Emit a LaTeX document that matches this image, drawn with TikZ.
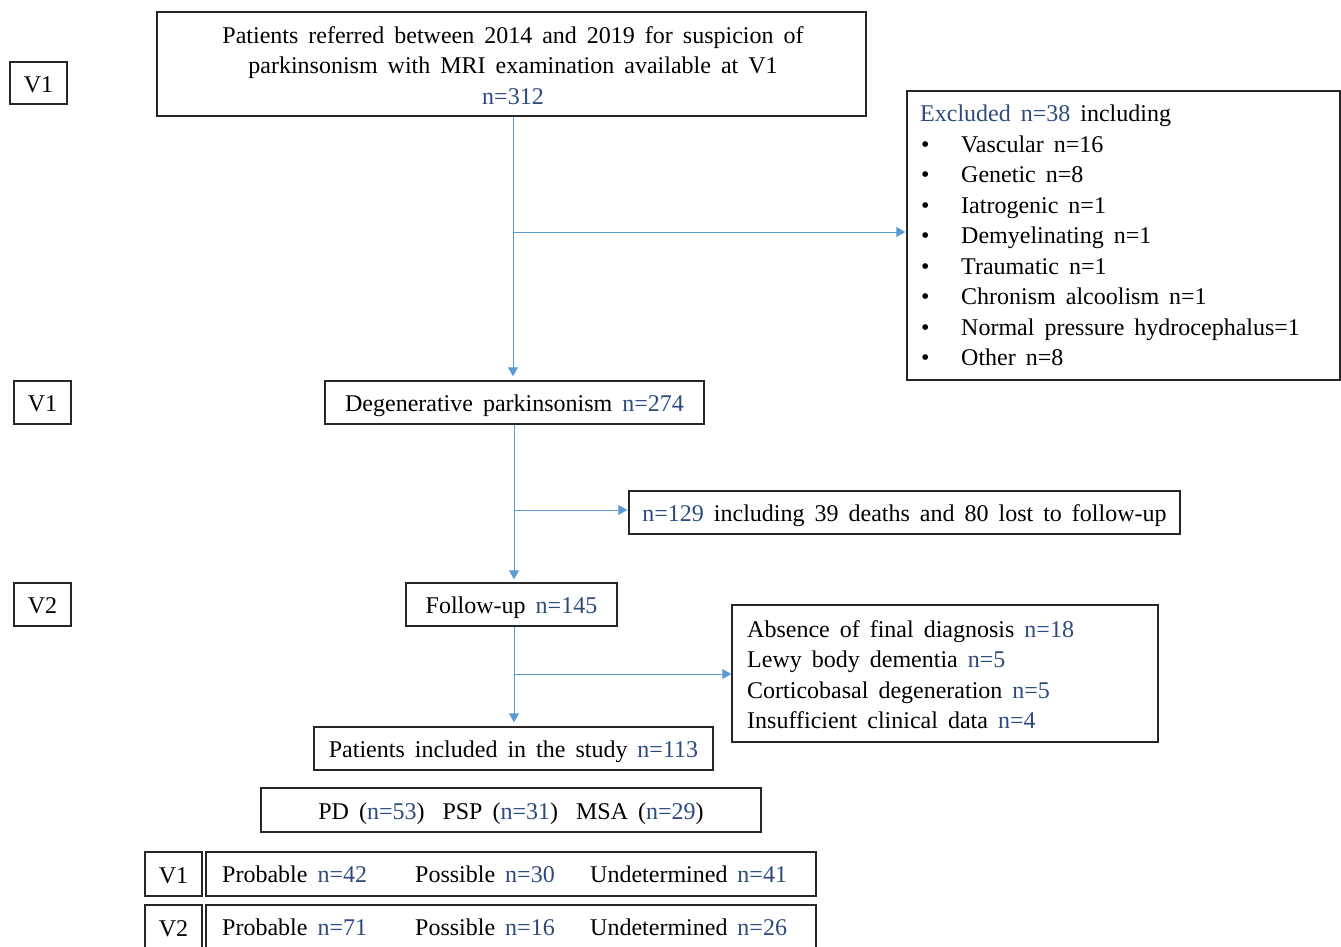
\documentclass[tikz,border=0pt]{standalone}
\usepackage{fontspec}
\setmainfont{Liberation Serif}
\usetikzlibrary{arrows.meta}
\definecolor{nblue}{HTML}{2E4A7D}
\definecolor{lblue}{HTML}{5B9BD5}
\definecolor{bord}{HTML}{262626}
\newcommand{\nb}[1]{\textcolor{nblue}{#1}}
\newcommand{\fsz}{\fontsize{24}{30.5}\selectfont\spaceskip=10pt\relax}
\newcommand{\bl}{\makebox[41pt][l]{\hspace{1pt}\textbullet}}
\begin{document}
\begin{tikzpicture}[x=1pt,y=-1pt,
  box/.style={draw=bord,line width=1.4pt,inner sep=0pt,font=\fsz,align=center},
  one/.style={text height=20pt,text depth=2pt},
  txt/.style={inner sep=0pt,font=\fsz},
  arr/.style={draw=lblue,line width=1pt,-{Triangle[length=9pt,width=10pt]},color=lblue}]
\useasboundingbox (0,0) rectangle (1341,946);
% visit labels
\node[box,one,minimum width=57pt,minimum height=42pt] (v1a) at (38.5,83) {V1};
\node[box,one,minimum width=57pt,minimum height=43pt] (v1b) at (42.5,402.5) {V1};
\node[box,one,minimum width=57pt,minimum height=43pt] (v2a) at (42.5,604.5) {V2};
% main boxes
\node[box,minimum width=709pt,minimum height=104pt] (top) at (511.5,64) {};
\node[txt,align=center] (toptxt) at (513,65.5)
  {Patients referred between 2014 and 2019 for suspicion of\\parkinsonism with MRI examination available at V1\\\nb{n=312}};
\node[box,minimum width=433pt,minimum height=289pt] (excl) at (1123.5,235.5) {};
\node[txt,anchor=west,align=left] (excltxt) at (920,235.5)
  {\nb{Excluded n=38} including\\
   \bl Vascular n=16\\
   \bl Genetic n=8\\
   \bl Iatrogenic n=1\\
   \bl Demyelinating n=1\\
   \bl Traumatic n=1\\
   \bl Chronism alcoolism n=1\\
   \bl Normal pressure hydrocephalus=1\\
   \bl Other n=8};
\node[box,one,minimum width=379pt,minimum height=43pt] (deg) at (514.5,402.5) {Degenerative parkinsonism \nb{n=274}};
\node[box,one,minimum width=551pt,minimum height=43pt] (lost) at (904.5,512.5) {\nb{n=129} including 39 deaths and 80 lost to follow-up};
\node[box,one,minimum width=211pt,minimum height=43pt] (fu) at (511.5,604.5) {Follow-up \nb{n=145}};
\node[box,minimum width=426pt,minimum height=137pt] (abs) at (945,673.5) {};
\node[txt,anchor=west,align=left] (abstxt) at (747,674.5)
  {Absence of final diagnosis \nb{n=18}\\
   Lewy body dementia \nb{n=5}\\
   Corticobasal degeneration \nb{n=5}\\
   Insufficient clinical data \nb{n=4}};
\node[box,one,minimum width=399pt,minimum height=43pt] (incl) at (513.5,748.5) {Patients included in the study \nb{n=113}};
\node[box,one,minimum width=500pt,minimum height=44pt] (pd) at (511,810)
  {PD (\nb{n=53})\hspace{18pt}PSP (\nb{n=31})\hspace{18pt}MSA (\nb{n=29})};
% bottom rows
\node[box,one,minimum width=57pt,minimum height=44pt] (r1l) at (173.5,874) {V1};
\node[box,minimum width=610pt,minimum height=44pt] (r1) at (511,874) {};
\node[box,one,minimum width=57pt,minimum height=44pt] (r2l) at (173.5,927) {V2};
\node[box,minimum width=610pt,minimum height=44pt] (r2) at (511,927) {};
\node[txt,anchor=base west] (p1) at (222,882) {Probable \nb{n=42}};
\node[txt,anchor=base west] (q1) at (415,882) {Possible \nb{n=30}};
\node[txt,anchor=base west] (u1) at (590,882) {Undetermined \nb{n=41}};
\node[txt,anchor=base west] (p2) at (222,935) {Probable \nb{n=71}};
\node[txt,anchor=base west] (q2) at (415,935) {Possible \nb{n=16}};
\node[txt,anchor=base west] (u2) at (590,935) {Undetermined \nb{n=26}};
% connectors
\coordinate (c1) at (513,0);
\coordinate (b1) at (513,232);
\draw[arr,shorten >=4pt] (top.south -| c1) -- (deg.north -| c1);
\draw[arr,shorten >=1pt] (b1) -- (b1 -| excl.west);
\coordinate (c2) at (514,0);
\coordinate (b2) at (514,510);
\draw[arr,shorten >=3pt] (deg.south -| c2) -- (fu.north -| c2);
\draw[arr,shorten >=1pt] (b2) -- (b2 -| lost.west);
\coordinate (c3) at (514,0);
\coordinate (b3) at (514,674);
\draw[arr,shorten >=4pt] (fu.south -| c3) -- (incl.north -| c3);
\draw[arr,shorten >=0pt] (b3) -- (b3 -| abs.west);
\end{tikzpicture}
\end{document}
